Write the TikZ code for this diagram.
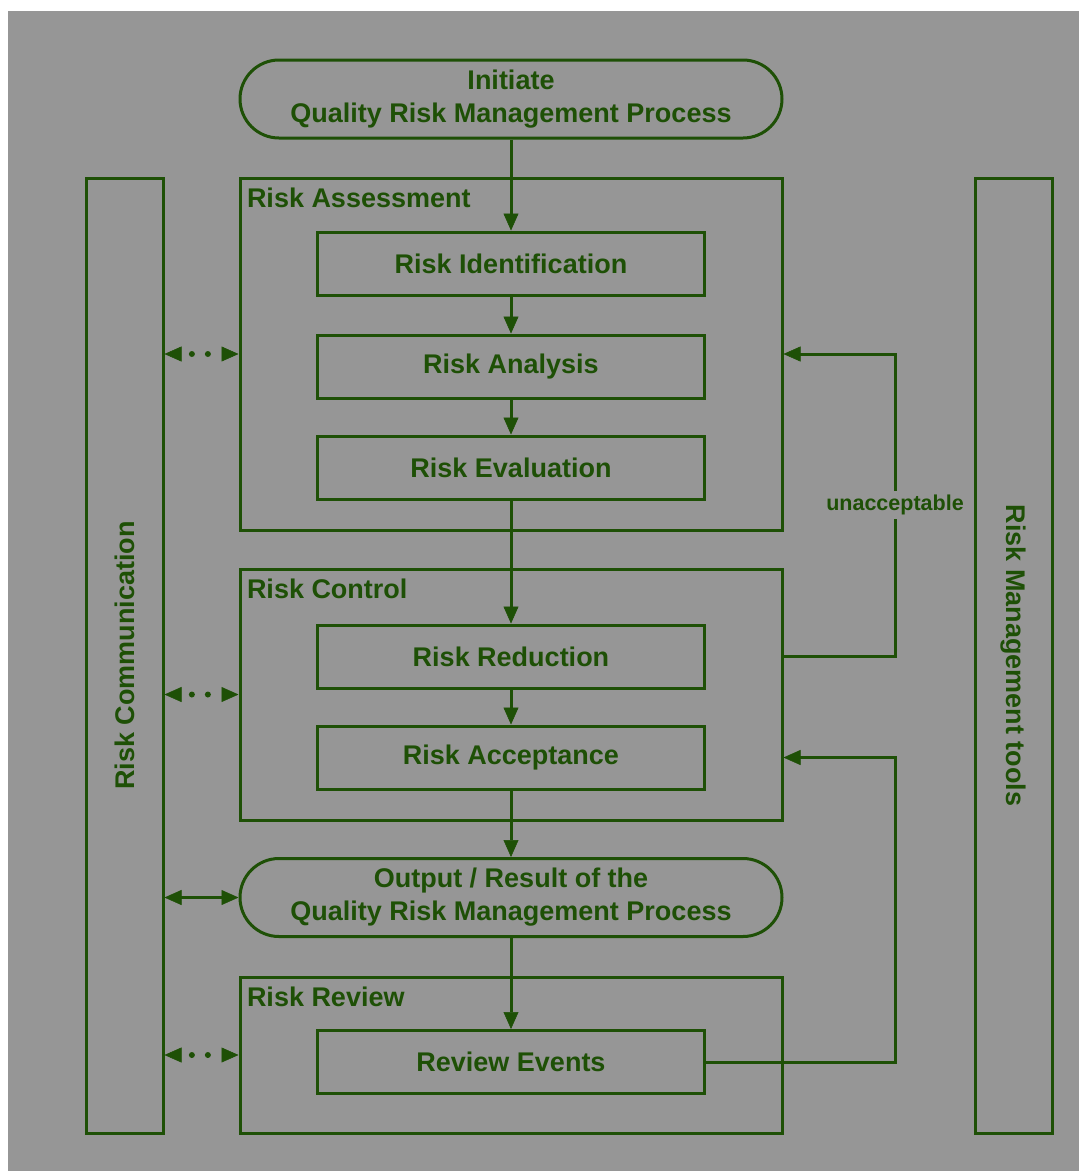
\documentclass[tikz,border=0pt]{standalone}
\usepackage{fontspec}
\setmainfont{Liberation Sans}
\usetikzlibrary{arrows.meta}
\definecolor{qrmgreen}{RGB}{30,80,6}
\definecolor{qrmgray}{RGB}{150,150,150}
\begin{document}
\begin{tikzpicture}[x=1pt, y=-1pt, line width=3pt, draw=qrmgreen,
  every node/.style={text=qrmgreen, font=\bfseries\fontsize{27}{33}\selectfont},
  stagebox/.style={draw, minimum width=387pt, minimum height=63pt, inner sep=0pt},
  group/.style={draw, minimum width=542pt, inner sep=0pt},
  grplabel/.style={anchor=base west, inner sep=0pt},
  term/.style={draw, rounded corners=39pt, minimum width=542pt, minimum height=78pt, align=center, inner sep=0pt},
  side/.style={draw, minimum width=77pt, minimum height=955pt, inner sep=0pt},
  flow/.style={-{Triangle[length=17pt, width=15pt, line width=0.5pt]}},
  both/.style={{Triangle[length=17pt, width=15pt, line width=0.5pt]}-{Triangle[length=17pt, width=15pt, line width=0.5pt]}},
  dots/.style={both, line cap=round, line width=6pt, dash pattern=on 0pt off 16pt, dash phase=5.5pt}]
\useasboundingbox (0,0) rectangle (1079,1171);
\fill[white] (0,0) rectangle (1079,1171);
\fill[qrmgray] (8,11) rectangle (1079,1171);

\node[term] (init) at (511,99) {Initiate\\Quality Risk Management Process};

\node[group, minimum height=352pt] (assess) at (511,354) {};
\node[grplabel] at ([xshift=7pt, yshift=-31pt]assess.north west) {Risk Assessment};
\node[stagebox] (ident) at (511,263.5) {Risk Identification};
\node[stagebox] (analysis) at (511,366.5) {Risk Analysis};
\node[stagebox] (evaluate) at (511,467.5) {Risk Evaluation};

\node[group, minimum height=251pt] (control) at (511,694.5) {};
\node[grplabel] at ([xshift=7pt, yshift=-31pt]control.north west) {Risk Control};
\node[stagebox] (reduce) at (511,656.5) {Risk Reduction};
\node[stagebox] (accept) at (511,757.5) {Risk Acceptance};

\node[term] (output) at (511,897.5) {Output / Result of the\\Quality Risk Management Process};

\node[group, minimum height=156pt] (review) at (511,1055) {};
\node[grplabel] at ([xshift=7pt, yshift=-31pt]review.north west) {Risk Review};
\node[stagebox] (events) at (511,1062) {Review Events};

\node[side] (comm) at (124.5,655.5) {\rotatebox{90}{Risk Communication}};
\node[side] (tools) at (1013.5,655.5) {\rotatebox{-90}{Risk Management tools}};

\coordinate (unacc) at (895,354);
\coordinate (recheck) at (895,757.5);

\draw[flow] (init) -- (ident);
\draw[flow] (ident) -- (analysis);
\draw[flow] (analysis) -- (evaluate);
\draw[flow] (evaluate) -- (reduce);
\draw[flow] (reduce) -- (accept);
\draw[flow] (accept) -- (output);
\draw[flow] (output) -- (events);

\draw[flow] (control.east |- reduce) -| (unacc)
  node[pos=0.75, fill=qrmgray, inner sep=4pt, font=\bfseries\fontsize{21.5}{25}\selectfont] {unacceptable}
  -- (assess.east);
\draw[flow] (events.east) -| (recheck) -- (control.east |- recheck);

\draw[dots] (comm.east |- assess) -- (assess.west);
\draw[dots] (comm.east |- control) -- (control.west);
\draw[both] (comm.east |- output) -- (output.west);
\draw[dots] (comm.east |- review) -- (review.west);
\end{tikzpicture}
\end{document}
